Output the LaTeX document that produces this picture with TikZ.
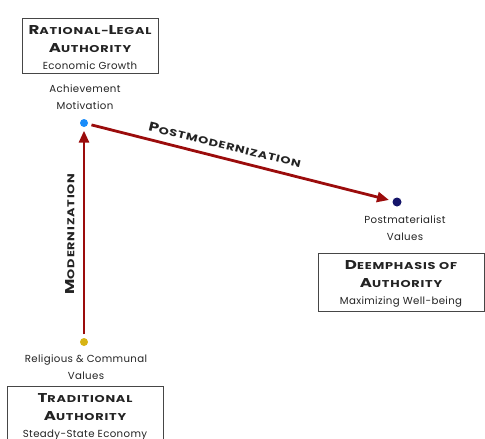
\documentclass[tikz,border=0pt]{standalone}
\usepackage{fontspec}
\setmainfont{Poppins}[LetterSpace=3.5]
\newfontfamily\capsfont{Poppins}[FakeStretch=1.3, LetterSpace=8]
\usetikzlibrary{arrows.meta}

\definecolor{arrowred}{RGB}{155,12,12}
\definecolor{inkgray}{RGB}{35,35,35}
\definecolor{boxgray}{RGB}{70,70,70}
\definecolor{dotblue}{RGB}{25,140,250}
\definecolor{dotnavy}{RGB}{20,20,105}
\definecolor{dotgold}{RGB}{215,180,20}

% faked small capitals: large initial, smaller remainder, both bold and wide
\newcommand{\bigsc}[2]{{\capsfont\bfseries\fontsize{12.8}{12.8}\selectfont #1}{\capsfont\bfseries\fontsize{9.9}{9.9}\selectfont #2}}
% raises the top of a box's text block so the lines sit lower in the frame
\newcommand{\topstrut}{\rule{0pt}{13.5pt}}

\tikzset{
  authbox/.style={draw=boxgray, line width=0.9pt, align=center, text=inkgray,
    inner sep=0pt, font=\fontsize{10.2}{17.5}\selectfont},
  valtext/.style={align=center, text=inkgray, inner sep=0pt,
    font=\fontsize{10.2}{16.5}\selectfont},
  valdot/.style={circle, inner sep=0pt, minimum size=8pt},
  shiftarrow/.style={arrowred, line width=2.8pt,
    -{Triangle[length=12pt,width=10pt]}, shorten >=3.5pt, shorten <=3.5pt},
  shiftlabel/.style={text=inkgray, inner sep=0pt}
}

\begin{document}
\begin{tikzpicture}[x=1pt,y=-1pt]
  \clip (0,0) rectangle (485,439);

  % authority boxes
  \node[authbox, minimum width=136pt, minimum height=55pt] (ratlegal) at (90,45.5)
    {\topstrut\bigsc{R}{ATIONAL-}\bigsc{L}{EGAL}\\ \bigsc{A}{UTHORITY}\\ Economic Growth};
  \node[authbox, minimum width=166pt, minimum height=58pt] (deemph) at (401,282)
    {\topstrut\bigsc{D}{EEMPHASIS OF}\\ \bigsc{A}{UTHORITY}\\ Maximizing Well-being};
  \node[authbox, minimum width=156pt, minimum height=62pt] (trad) at (85,417)
    {\bigsc{T}{RADITIONAL}\\ \bigsc{A}{UTHORITY}\\ Steady-State Economy};

  % value orientations
  \node[valtext] (achtext) at (85,97) {Achievement\\ Motivation};
  \node[valtext] (posttext) at (405,228) {Postmaterialist\\ Values};
  \node[valtext] (reltext) at (86,367) {Religious \& Communal\\ Values};

  \node[valdot, fill=dotblue] (ach) at (84,123) {};
  \node[valdot, fill=dotnavy, minimum size=9pt] (post) at (397,202) {};
  \node[valdot, fill=dotgold] (rel) at (84,342) {};

  % shifts between value systems
  \draw[shiftarrow] (rel) -- (ach);
  \draw[shiftarrow] (ach) -- (post);

  \node[shiftlabel, rotate=90] (modlab) at (70,234) {\bigsc{M}{ODERNIZATION}};
  \node[shiftlabel, rotate=-13.7] (postlab) at (225,145) {\bigsc{P}{OSTMODERNIZATION}};
\end{tikzpicture}
\end{document}
